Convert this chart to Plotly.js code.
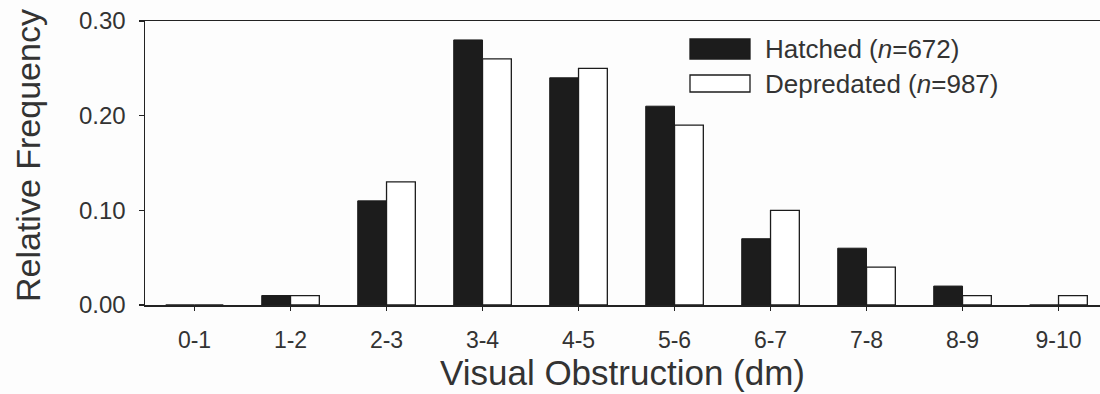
<!DOCTYPE html>
<html>
<head>
<meta charset="utf-8">
<script src="https://cdn.plot.ly/plotly-3.0.1.min.js"></script>
<style>html,body{margin:0;padding:0;background:#fdfdfd;}#chart{width:1100px;height:394px;}</style>
</head>
<body>
<div id="chart"></div>
<script>
const categories = ["0-1","1-2","2-3","3-4","4-5","5-6","6-7","7-8","8-9","9-10"];
const hatched = [0, 0.01, 0.11, 0.28, 0.24, 0.21, 0.07, 0.06, 0.02, 0];
const depredated = [0, 0.01, 0.13, 0.26, 0.25, 0.19, 0.10, 0.04, 0.01, 0.01];
const yTicks = [0, 0.10, 0.20, 0.30];
const seriesNames = ["Hatched (<i>n</i>=672)", "Depredated (<i>n</i>=987)"];
const yTitle = "Relative Frequency";
const xTitle = "Visual Obstruction (dm)";

const ink = "#333333";
const font = "Liberation Sans, Arial, sans-serif";

const traces = [
  {type:"bar", x:categories, y:hatched, name:seriesNames[0],
   marker:{color:"#1c1c1c", line:{color:"#1c1c1c", width:1}}, showlegend:false},
  {type:"bar", x:categories, y:depredated, name:seriesNames[1],
   marker:{color:"#ffffff", line:{color:"#1c1c1c", width:1.3}}, showlegend:false}
];

// legend drawn with pixel-positioned swatches
const W = 1100, H = 394, L = 145, R = 0, T = 21, B = 89;
const pw = W - L - R, ph = H - T - B;
function px(x){ return (x - L) / pw; }
function py(y){ return 1 - (y - T) / ph; }

const legendRows = [
  {y0:39, y1:59, fill:"#1c1c1c"},
  {y0:75, y1:92, fill:"#ffffff"}
];
const shapes = legendRows.map(r => ({
  type:"rect", xref:"paper", yref:"paper",
  x0:px(690), x1:px(750), y0:py(r.y1), y1:py(r.y0),
  fillcolor:r.fill, line:{color:"#1c1c1c", width:1.3}
}));
const annotations = legendRows.map((r,i) => ({
  xref:"paper", yref:"paper", x:px(763), y:py((r.y0+r.y1)/2),
  xanchor:"left", yanchor:"middle", showarrow:false,
  text:seriesNames[i], font:{family:font, size:26, color:ink}
}));
annotations.push({
  xref:"paper", yref:"paper", x:px(28), y:py(156),
  xanchor:"center", yanchor:"middle", showarrow:false, textangle:-90,
  text:yTitle, font:{family:font, size:34, color:ink}
});

const layout = {
  width:W, height:H,
  margin:{l:L, r:R, t:T, b:B, pad:0},
  paper_bgcolor:"#fdfdfd", plot_bgcolor:"#fdfdfd",
  font:{family:font, color:ink},
  barmode:"group", bargap:0.4, bargroupgap:0,
  xaxis:{
    type:"category", range:[-0.516, 9.432],
    showline:true, linecolor:"#222", linewidth:1.5, mirror:true,
    ticks:"outside", ticklen:4, tickwidth:1.2, tickcolor:"#222",
    ticklabelstandoff:10,
    tickfont:{family:font, size:23, color:ink},
    showgrid:false, zeroline:false,
    title:{text:xTitle, font:{family:font, size:35, color:ink}, standoff:4}
  },
  yaxis:{
    range:[0, 0.30], tickvals:yTicks, tickformat:".2f",
    showline:true, linecolor:"#222", linewidth:1.5,
    ticks:"outside", ticklen:5, tickwidth:1.2, tickcolor:"#222",
    ticklabelstandoff:8,
    tickfont:{family:font, size:24, color:ink},
    showgrid:false, zeroline:false
  },
  shapes:shapes,
  annotations:annotations
};

Plotly.newPlot("chart", traces, layout, {displayModeBar:false, staticPlot:true});
</script>
</body>
</html>
